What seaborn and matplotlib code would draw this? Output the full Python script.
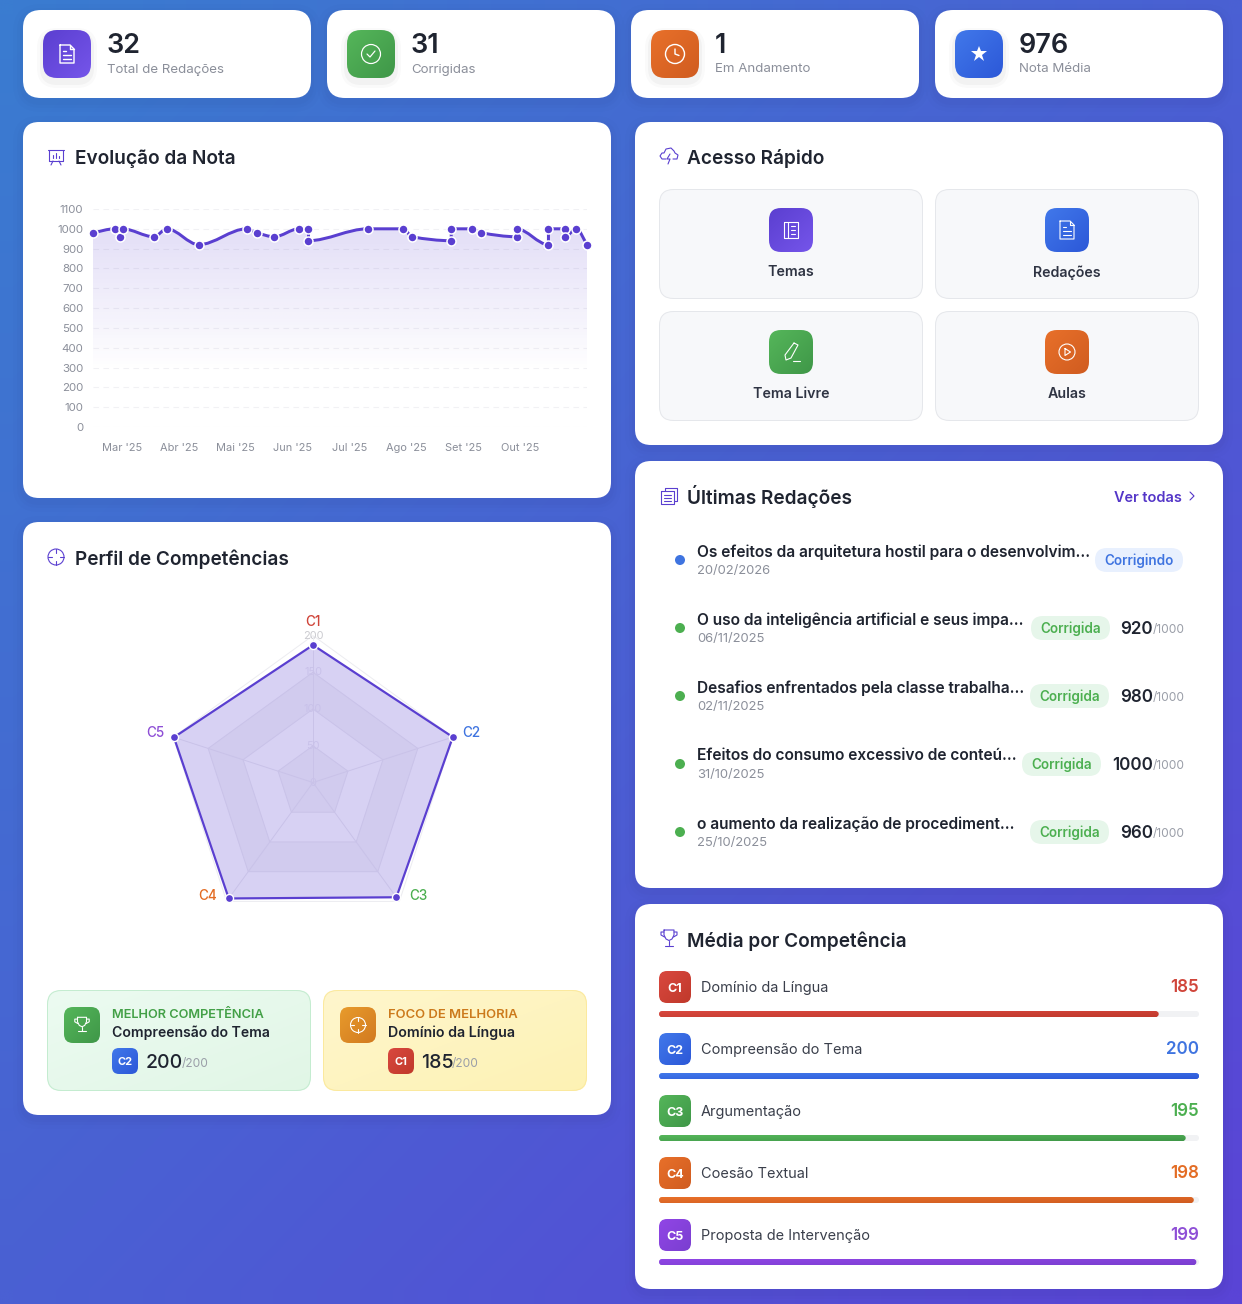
import matplotlib
matplotlib.use("Agg")
import matplotlib.pyplot as plt
from matplotlib.patches import FancyBboxPatch, Circle, PathPatch, Polygon
from matplotlib.path import Path
from matplotlib.colors import to_rgb
import numpy as np
import pandas as pd
import seaborn as sns

# stat cards
stat_values = ["32", "31", "1", "976"]
stat_labels = ["Total de Redações", "Corrigidas", "Em Andamento", "Nota Média"]

# line chart: month position (0 = Mar '25) and grade
nota_mes = [-0.51, -0.13, -0.03, 0.01, 0.56, 0.79, 1.35, 2.19, 2.37, 2.68, 3.11, 3.28, 3.28,
            4.32, 4.95, 5.10, 5.79, 5.79, 6.16, 6.32, 6.94, 6.94, 7.50, 7.50, 7.79, 7.79, 7.99, 8.18]
nota_val = [980, 1000, 960, 1000, 960, 1000, 920, 1000, 980, 960, 1000, 1000, 940,
            1000, 1000, 960, 940, 1000, 1000, 980, 960, 1000, 920, 1000, 1000, 960, 1000, 920]
meses = ["Mar '25", "Abr '25", "Mai '25", "Jun '25", "Jul '25", "Ago '25", "Set '25", "Out '25"]
nota_ticks = list(range(0, 1101, 100))

# competencies
comp_codes = ["C1", "C2", "C3", "C4", "C5"]
comp_names = ["Domínio da Língua", "Compreensão do Tema", "Argumentação", "Coesão Textual", "Proposta de Intervenção"]
comp_media = [185, 200, 195, 198, 199]
radar_vals = [187, 200, 193, 195, 199]
radar_rings = [50, 100, 150, 200]

# essays
red_titles = ["Os efeitos da arquitetura hostil para o desenvolvim...",
              "O uso da inteligência artificial e seus impa...",
              "Desafios enfrentados pela classe trabalha...",
              "Efeitos do consumo excessivo de conteú...",
              "o aumento da realização de procediment..."]
red_dates = ["20/02/2026", "06/11/2025", "02/11/2025", "31/10/2025", "25/10/2025"]
red_scores = [None, "920", "980", "1000", "960"]

C_PURPLE = "#5a3fd0"
C_DARK = "#1f2430"
C_GREY = "#8b8f9a"
comp_cols = ["#d0453a", "#3f74e0", "#4caf50", "#e36c24", "#8e4fd6"]
comp_grad = [("#d9483f", "#c0392b"), ("#4178ea", "#2c58d8"), ("#55b65a", "#3f9748"),
             ("#e8702a", "#d05c20"), ("#9145e6", "#7a3fd0")]

sns.set_theme(style="white")
plt.rcParams["font.family"] = ["Inter", "DejaVu Sans"]
PX = 0.72

fig = plt.figure(figsize=(12.42, 13.04), dpi=100)
bg = fig.add_axes([0, 0, 1, 1], zorder=0)
bg.set_xlim(0, 1242)
bg.set_ylim(1304, 0)
bg.set_autoscale_on(False)
bg.axis("off")


def grad_img(c1, c2, n=48):
    a, b = np.array(to_rgb(c1)), np.array(to_rgb(c2))
    u, v = np.meshgrid(np.linspace(0, 1, n), np.linspace(0, 1, n))
    return (a[None, None] * (1 - (u + v)[..., None] / 2) + b[None, None] * ((u + v)[..., None] / 2))


def rbox(x0, y0, x1, y1, r, **kw):
    return FancyBboxPatch((x0 + r, y0 + r), x1 - x0 - 2 * r, y1 - y0 - 2 * r,
                          boxstyle=f"round,pad={r},rounding_size={r}", **kw)


def box(x0, y0, x1, y1, r, fc="white", ec="none", lw=1.0, z=2):
    p = rbox(x0, y0, x1, y1, r, fc=fc, ec=ec, lw=lw * PX, zorder=z)
    bg.add_patch(p)
    return p


def gbox(x0, y0, x1, y1, r, c1, c2, z=3):
    im = bg.imshow(grad_img(c1, c2), extent=(x0, x1, y1, y0), aspect="auto", zorder=z,
                   interpolation="bilinear")
    p = rbox(x0, y0, x1, y1, r, fc="none", ec="none", transform=bg.transData)
    bg.add_patch(p)
    im.set_clip_path(p)


def card(x0, y0, x1, y1, r=16):
    for grow, al in [(10, 0.012), (6, 0.016), (3, 0.02)]:
        box(x0 - grow, y0 - grow + 4, x1 + grow, y1 + grow + 4, r + grow, fc=(0.1, 0.1, 0.3, al), z=1)
    box(x0, y0, x1, y1, r)


def t(x, y, s, size, color=C_DARK, weight="normal", ha="left", z=6):
    return bg.text(x, y, s, fontsize=size * PX, color=color, fontweight=weight, ha=ha,
                   va="center_baseline", zorder=z)


def stroke(cx, cy, pts, color="white", lw=1.3, z=5):
    pts = np.array(pts, dtype=float)
    bg.plot(cx + pts[:, 0], cy + pts[:, 1], color=color, lw=lw * PX, zorder=z, solid_capstyle="round",
            solid_joinstyle="round")


def ring(cx, cy, r, color="white", lw=1.3, z=5):
    bg.add_patch(Circle((cx, cy), r, fc="none", ec=color, lw=lw * PX, zorder=z))


def ic_doc(cx, cy, c="white", s=1.0, lw=1.3):
    stroke(cx, cy, np.array([(-7, -9), (3, -9), (7, -5), (7, 9), (-7, 9), (-7, -9)]) * s, c, lw)
    stroke(cx, cy, np.array([(3, -9), (3, -5), (7, -5)]) * s, c, lw)
    for yy, xx in [(-3, -1), (1, 4), (5, 4)]:
        stroke(cx, cy, np.array([(-4, yy), (xx, yy)]) * s, c, lw)


def ic_target(cx, cy, c="white", r=8, lw=1.3):
    ring(cx, cy, r, c, lw)
    for a, b in [((0, -r), (0, -r / 2)), ((0, r), (0, r / 2)), ((-r, 0), (-r / 2, 0)), ((r, 0), (r / 2, 0))]:
        stroke(cx, cy, [a, b], c, lw)


def ic_trophy(cx, cy, c="white", s=1.0, lw=1.3):
    cup = [(-5, -8), (5, -8), (5, -3), (3, 1), (0, 2.5), (-3, 1), (-5, -3), (-5, -8)]
    stroke(cx, cy, np.array(cup) * s, c, lw)
    stroke(cx, cy, np.array([(-5, -6), (-8, -6), (-8, -3), (-4.5, -1)]) * s, c, lw)
    stroke(cx, cy, np.array([(5, -6), (8, -6), (8, -3), (4.5, -1)]) * s, c, lw)
    stroke(cx, cy, np.array([(0, 2.5), (0, 7)]) * s, c, lw)
    stroke(cx, cy, np.array([(-4, 7.5), (4, 7.5)]) * s, c, lw)


# background
grad = bg.imshow(grad_img("#3a7cd0", "#5a44d6"), extent=(0, 1242, 1304, 0), aspect="auto", zorder=0,
                 interpolation="bilinear")

# stat cards
stat_x = [23, 327, 631, 935]
stat_grads = [("#5b3fd0", "#7555ea"), ("#55b65a", "#3f9748"), ("#e8702a", "#d05c20"), ("#4178ea", "#2c58d8")]
for i, x in enumerate(stat_x):
    card(x, 10, x + 288, 98, 18)
    for grow, al in [(6, 0.02), (3, 0.03)]:
        box(x + 20 - grow, 30 - grow + 4, x + 68 + grow, 78 + grow + 4, 14 + grow, fc=(0, 0, 0, al), z=2.5)
    gbox(x + 20, 30, x + 68, 78, 14, *stat_grads[i])
    t(x + 84, 43, stat_values[i], 27, weight="semibold")
    t(x + 84, 68, stat_labels[i], 13.3, C_GREY)
ic_doc(67, 54, s=1.0, lw=1.4)
ring(371, 54, 9.5, lw=1.2)
stroke(371, 54, [(-4, 0), (-1, 3), (4, -3)], lw=1.2)
ring(675, 54, 9.5, lw=1.4)
stroke(675, 54, [(0, -5), (0, 0), (4, 1.5)], lw=1.4)
bg.plot([979], [54], marker="*", ms=12, color="white", mew=0, zorder=5)

# big cards
card(23, 122, 611, 498)
card(23, 522, 611, 1115)
card(635, 122, 1223, 445)
card(635, 461, 1223, 888)
card(635, 904, 1223, 1289)

# card titles
t(75, 157, "Evolução da Nota", 19, weight="semibold")
t(75, 557, "Perfil de Competências", 19, weight="semibold")
t(687, 157, "Acesso Rápido", 19, weight="semibold")
t(687, 494, "Últimas Redações", 19, weight="semibold")
t(687, 939, "Média por Competência", 19, weight="semibold")
stroke(56, 157, [(-8, -7), (8, -7)], C_PURPLE, lw=1.1)
stroke(56, 157, [(-7, -7), (-7, 4), (7, 4), (7, -7)], C_PURPLE, lw=1.1)
stroke(56, 157, [(-3, 4), (-5, 8)], C_PURPLE, lw=1.1)
stroke(56, 157, [(3, 4), (5, 8)], C_PURPLE, lw=1.1)
stroke(56, 157, [(-3, 1), (-3, -2)], C_PURPLE, lw=1.1)
stroke(56, 157, [(0, 1), (0, -4)], C_PURPLE, lw=1.1)
stroke(56, 157, [(3, 1), (3, -1)], C_PURPLE, lw=1.1)
ic_target(56, 557, C_PURPLE, r=8, lw=1.1)
stroke(669, 156, [(-3, 3), (-7, 3), (-9, 0), (-7, -3), (-5, -3), (-3, -7), (2, -8), (5, -5), (6, -3), (9, -1),
                  (8, 3), (4, 3)], C_PURPLE, lw=1.1)
stroke(669, 156, [(1, -2), (-2, 3), (1, 3), (-1, 8)], C_PURPLE, lw=1.1)
stroke(669, 496, [(-4, -5), (-4, -8), (8, -8), (8, 5), (5, 5)], C_PURPLE, lw=1.1)
stroke(669, 496, [(-8, -5), (5, -5), (5, 8), (-8, 8), (-8, -5)], C_PURPLE, lw=1.1)
stroke(669, 496, [(-5, -1), (2, -1)], C_PURPLE, lw=1.1)
stroke(669, 496, [(-5, 2), (2, 2)], C_PURPLE, lw=1.1)
stroke(669, 496, [(-5, 5), (2, 5)], C_PURPLE, lw=1.1)
ic_trophy(669, 938, C_PURPLE, lw=1.1)

# line chart
left, right, top, bottom = 93, 587, 209, 427
x_lim = (-0.51, 8.178)
ax = fig.add_axes([left / 1242, 1 - bottom / 1304, (right - left) / 1242, (bottom - top) / 1304], zorder=2)
ax.patch.set_alpha(0)
df = pd.DataFrame({"mes": nota_mes, "nota": nota_val})
sns.scatterplot(data=df, x="mes", y="nota", ax=ax, color=C_PURPLE, s=42, edgecolor="white", linewidth=1.1,
                clip_on=False, zorder=5)
ax.set_xlim(*x_lim)
ax.set_ylim(0, 1100)
ax.set_xticks(range(len(meses)), meses)
ax.set_yticks(nota_ticks)
ax.set_xlabel("")
ax.set_ylabel("")
ax.tick_params(axis="x", length=0, pad=11.5, labelsize=11 * PX, colors=C_GREY)
ax.tick_params(axis="y", length=0, pad=7, labelsize=11.5 * PX, colors=C_GREY)
ax.yaxis.grid(True, color="#f1f1f4", lw=0.8, ls=(0, (5, 4)))
ax.xaxis.grid(False)
ax.set_axisbelow(True)
sns.despine(ax=ax, left=True, bottom=True)

# smooth curve through the points (monotone bezier)
xs, ys = np.array(nota_mes, float), np.array(nota_val, float)
dx, dy = np.diff(xs), np.diff(ys)
sl = np.divide(dy, dx, out=np.zeros_like(dy), where=dx > 0)
m = np.zeros_like(xs)
for i in range(1, len(xs) - 1):
    if sl[i - 1] * sl[i] > 0:
        m[i] = 2 * sl[i - 1] * sl[i] / (sl[i - 1] + sl[i])
m[0], m[-1] = sl[0], sl[-1]
verts, codes = [(xs[0], ys[0])], [Path.MOVETO]
for i in range(len(dx)):
    verts += [(xs[i] + dx[i] / 3, ys[i] + m[i] * dx[i] / 3),
              (xs[i + 1] - dx[i] / 3, ys[i + 1] - m[i + 1] * dx[i] / 3),
              (xs[i + 1], ys[i + 1])]
    codes += [Path.CURVE4] * 3
ax.add_patch(PathPatch(Path(verts, codes), fc="none", ec=C_PURPLE, lw=3 * PX, zorder=4, clip_on=False))

rgba = np.zeros((64, 2, 4))
rgba[..., :3] = to_rgb(C_PURPLE)
rgba[..., 3] = 0.17 * np.clip(1 - np.linspace(0, 1, 64)[:, None] / 0.72, 0, 1)
fill_im = ax.imshow(rgba, extent=(x_lim[0], x_lim[1], 0, 1000), aspect="auto", zorder=1, interpolation="bilinear")
area = PathPatch(Path(verts + [(xs[-1], 0), (xs[0], 0), (xs[0], ys[0])],
                      codes + [Path.LINETO, Path.LINETO, Path.LINETO]), fc="none", ec="none",
                 transform=ax.transData)
ax.add_patch(area)
fill_im.set_clip_path(area)
ax.set_xlim(*x_lim)
ax.set_ylim(0, 1100)

# radar
cx, cy, R = 313, 782.5, 147
rad = fig.add_axes([(cx - R) / 1242, 1 - (cy + R) / 1304, 2 * R / 1242, 2 * R / 1304], projection="polar", zorder=2)
rad.patch.set_alpha(0)
rad.set_theta_zero_location("N")
rad.set_theta_direction(-1)
theta = np.deg2rad(np.arange(0, 360, 72))
th_closed = np.append(theta, theta[0])
rad.set_ylim(0, 200)
rad.set_xticks([])
rad.set_yticks([])
rad.grid(False)
rad.spines["polar"].set_visible(False)
prev = 0
for j, r_ in enumerate(radar_rings):
    ring_r = np.full(6, r_)
    rad.plot(th_closed, ring_r, color="#ececf0", lw=0.7, zorder=2)
    outer = np.column_stack([th_closed, ring_r])
    inner = np.column_stack([th_closed[::-1], np.full(6, prev)])
    fc = "#f7f7f8" if j % 2 == 0 else "#ffffff"
    rad.add_patch(Polygon(np.vstack([outer, inner]), closed=True, fc=fc, ec="none", zorder=1))
    lab_col = "#cbcbd0" if r_ == 200 else "#ecebf2"
    rad.text(0, r_, str(r_), fontsize=11 * PX, color=lab_col, ha="center", va="center", zorder=2)
    prev = r_
rad.text(0, 0, "0", fontsize=11 * PX, color="#ecebf2", ha="center", va="center", zorder=2)
for a in theta:
    rad.plot([a, a], [0, 200], color="#ececf0", lw=0.7, zorder=2)
r_closed = radar_vals + radar_vals[:1]
rad.fill(th_closed, r_closed, color=C_PURPLE, alpha=0.24, lw=0, zorder=3)
sns.lineplot(x=th_closed, y=r_closed, ax=rad, sort=False, estimator=None, color=C_PURPLE, lw=2 * PX * 1.1,
             zorder=4, clip_on=False)
sns.scatterplot(x=theta, y=radar_vals, ax=rad, color=C_PURPLE, s=34, edgecolor="white", linewidth=1.0,
                zorder=5, clip_on=False)
rad.set_xlabel("")
rad.set_ylabel("")
rad.set_xticks([])
rad.set_yticks([])
rad.set_ylim(0, 200)
rad.grid(False)

radar_lab = [(313, 620), (471.5, 731.5), (418, 895), (208, 895), (155, 731.5)]
for (lx, ly), code, col in zip(radar_lab, comp_codes, comp_cols):
    t(lx, ly, code, 13.5, col, "medium", "center")

# highlight boxes
gbox(47, 990, 311, 1091, 14, "#ecfbf1", "#e1f6e6")
box(47.5, 990.5, 310.5, 1090.5, 14, fc="none", ec="#c4ecd0", z=3.5)
gbox(323, 990, 587, 1091, 14, "#fff6cd", "#fdf2b4")
box(323.5, 990.5, 586.5, 1090.5, 14, fc="none", ec="#fbe99e", z=3.5)
gbox(64, 1007, 100, 1043, 9, "#55b65a", "#3f9748", z=4)
gbox(340, 1007, 376, 1043, 9, "#e89b2c", "#d27a20", z=4)
ic_trophy(82, 1024.5, "white", s=0.9, lw=1.1)
ic_target(358, 1025, "white", r=7.5, lw=1.1)
t(112, 1014, "MELHOR COMPETÊNCIA", 12.8, "#43a047", "semibold")
t(112, 1031, "Compreensão do Tema", 14, C_DARK, "semibold")
t(388, 1014, "FOCO DE MELHORIA", 13, "#cc7a1c", "semibold")
t(388, 1031, "Domínio da Língua", 14.2, C_DARK, "semibold")
gbox(112, 1048, 138, 1074, 7, "#4178ea", "#2c58d8", z=4)
gbox(388, 1048, 414, 1074, 7, "#d9483f", "#c0392b", z=4)
t(125, 1061, "C2", 11, "white", "bold", "center")
t(401, 1061, "C1", 11, "white", "bold", "center")
t(146, 1061, "200", 19.5, C_DARK, "medium")
t(181.5, 1063, "/200", 12, "#9a9ea8")
t(421, 1061, "185", 19.5, C_DARK, "medium")
t(452, 1063, "/200", 12, "#9a9ea8")

# quick access
tile_x = [659, 935]
tile_y = [189, 311]
tile_labels = [["Temas", "Redações"], ["Tema Livre", "Aulas"]]
tile_grads = [[("#5b3fd0", "#7555ea"), ("#4178ea", "#2c58d8")], [("#55b65a", "#3f9748"), ("#e8702a", "#d05c20")]]
for i, y in enumerate(tile_y):
    for j, x in enumerate(tile_x):
        box(x + 0.5, y + 0.5, x + 263.5, y + 109.5, 14, fc="#f7f8fa", ec="#e5e7eb", z=2.5)
        gbox(x + 110, y + 19, x + 154, y + 63, 12, *tile_grads[i][j])
        t(x + 132, y + 82, tile_labels[i][j], 14.2, "#2f3443", "semibold", "center")
stroke(791, 230, [(-7, -8), (7, -8), (7, 8), (-7, 8), (-7, -8)], lw=1.1)
stroke(791, 230, [(-3, -8), (-3, 8)], lw=1.1)
for yy in [-4, 0, 4]:
    stroke(791, 230, [(0, yy), (4, yy)], lw=1.1)
ic_doc(1067, 230, s=1.0, lw=1.1)
stroke(791, 352, [(3, -9), (7, -7), (0, 6), (-5, 8), (-6, 3), (3, -9)], lw=1.1)
stroke(791, 352, [(2, 9), (9, 9)], lw=1.1)
ring(1067, 352, 8, lw=1.1)
stroke(1067, 352, [(-2, -3.5), (3.5, 0), (-2, 3.5), (-2, -3.5)], lw=1.1)

# last essays
t(1114, 496, "Ver todas", 14.5, "#5436c8", "semibold")
stroke(1192, 496, [(-2, -4), (2, 0), (-2, 4)], "#5436c8", lw=1.1)
row_y = [560, 628, 696, 764, 832]
badge_x = [(1095, 1183), (1031, 1110), (1030, 1109), (1022, 1101), (1030, 1109)]
for i, y in enumerate(row_y):
    done = red_scores[i] is not None
    bg.add_patch(Circle((680, y), 5, fc="#4caf50" if done else "#3f74e0", ec="none", zorder=4))
    t(697, y - 9.5, red_titles[i], 15.5, "#1f2430", "semibold")
    t(697, y + 9.5, red_dates[i], 13, C_GREY)
    bx0, bx1 = badge_x[i]
    box(bx0, y - 12, bx1, y + 12, 12, fc="#e6f6ea" if done else "#e8f0fe", z=3)
    t((bx0 + bx1) / 2, y - 1, "Corrigida" if done else "Corrigindo", 13.5, "#4caf50" if done else "#3f74e0", "semibold", "center")
    if done:
        t(1153, y - 1, red_scores[i], 17, C_DARK, "semibold", "right")
        t(1153, y + 1, "/1000", 12, "#9a9ea8")

# average per competency
row0 = 987
for i in range(5):
    y = row0 + 62 * i
    gbox(659, y - 16, 691, y + 16, 8, *comp_grad[i])
    t(675, y, comp_codes[i], 12.5, "white", "bold", "center")
    t(701, y - 0.5, comp_names[i], 14.5, "#3a3f4b")
    t(1199, y - 1, str(comp_media[i]), 17, comp_cols[i], "semibold", "right")
    box(659, y + 24, 1199, y + 30, 3, fc="#f1f2f4", z=3)

bar_top, bar_bottom = row0 + 27 - 31, row0 + 27 + 62 * 4 + 31
bars = fig.add_axes([659 / 1242, 1 - bar_bottom / 1304, 540 / 1242, (bar_bottom - bar_top) / 1304], zorder=2)
bars.patch.set_alpha(0)
bar_df = pd.DataFrame({"code": comp_codes, "media": comp_media})
sns.barplot(data=bar_df, y="code", x="media", hue="code", palette=comp_cols, legend=False, ax=bars,
            width=6 / 62, saturation=1)
bars.set_xlim(0, 200)
bars.set_ylim(4.5, -0.5)
bars.axis("off")
for i, b in enumerate(bars.patches):
    wpx = b.get_width() / 200 * 540
    y = row0 + 62 * i + 24
    clip = rbox(659, y, 659 + wpx, y + 6, 3, fc="none", ec="none", transform=bg.transData)
    b.set_clip_path(clip)
    im = bars.imshow(grad_img(*comp_grad[i]), extent=(0, b.get_width(), b.get_y() + b.get_height(), b.get_y()),
                     aspect="auto", zorder=3, interpolation="bilinear")
    im.set_clip_path(clip)
bars.set_xlim(0, 200)
bars.set_ylim(4.5, -0.5)

fig.savefig("out.png", dpi=100)
